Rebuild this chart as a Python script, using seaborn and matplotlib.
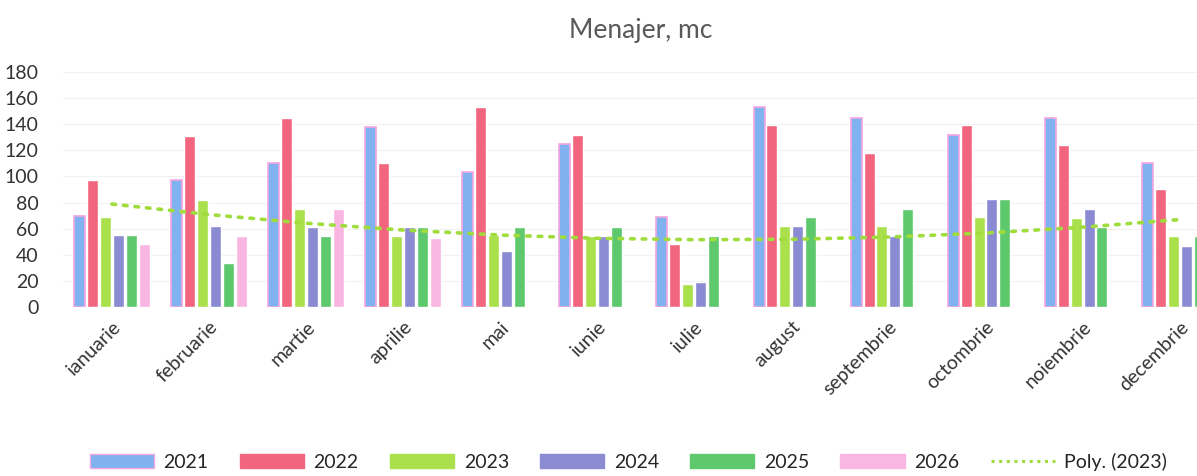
import numpy as np
import pandas as pd
import seaborn as sns
import matplotlib.pyplot as plt
from matplotlib.lines import Line2D
from matplotlib.patches import Patch

months = ["ianuarie", "februarie", "martie", "aprilie", "mai", "iunie",
          "iulie", "august", "septembrie", "octombrie", "noiembrie", "decembrie"]
years = ["2021", "2022", "2023", "2024", "2025", "2026"]

v2021 = [70, 97, 110, 138, 103, 125, 69, 153, 145, 132, 145, 110]
v2022 = [97, 131, 145, 110, 153, 132, 48, 139, 118, 139, 124, 90]
v2023 = [69, 82, 75, 54, 55, 54, 18, 62, 62, 69, 68, 54]
v2024 = [55, 62, 61, 61, 43, 54, 19, 62, 54, 83, 75, 47]
v2025 = [55, 34, 54, 61, 61, 61, 54, 69, 75, 83, 61, 54]
v2026 = [48, 54, 75, 53, np.nan, np.nan, np.nan, np.nan, np.nan, np.nan, np.nan, np.nan]

colors = ["#7fb2ee", "#f2657f", "#a9e04c", "#8b8bd4", "#5dc86c", "#f9b6e2"]
trend_color = "#9fdc3c"

sns.set_style("white")
plt.rcParams['font.family'] = ['Lato', 'DejaVu Sans']

rows = []
for y, vals in zip(years, [v2021, v2022, v2023, v2024, v2025, v2026]):
    for m, v in zip(months, vals):
        rows.append({"month": m, "year": y, "value": v})
df = pd.DataFrame(rows)

fig = plt.figure(figsize=(11.97, 4.76), dpi=100)
ax = fig.add_axes([0.053, 0.355, 0.973, 0.494])

sns.barplot(data=df, x="month", y="value", hue="year", order=months,
            hue_order=years, palette=colors, width=0.8, ax=ax,
            saturation=1, legend=False, gap=0.15)

# pink outline on 2021 bars, like the original
for bar in ax.containers[0]:
    bar.set_edgecolor("#f4a6e0")
    bar.set_linewidth(1.2)

# polynomial trend (order 2) of 2023
xs = np.arange(len(months))
coef = np.polyfit(xs, v2023, 2)
ax.plot(xs, np.polyval(coef, xs), linestyle=(0, (1, 2.2)), linewidth=2.6,
        color=trend_color, dash_capstyle="round")

ax.set_xlim(-0.5, len(months) - 0.5)
ax.set_ylim(0, 180)
ax.set_yticks(range(0, 181, 20))
ax.yaxis.grid(True, color="#f2f2f2", linewidth=0.8)
ax.set_axisbelow(True)
for s in ax.spines.values():
    s.set_visible(False)
ax.tick_params(axis="both", length=0, labelsize=14, colors="#333333")
ax.tick_params(axis="y", pad=18)
ax.tick_params(axis="x", pad=8)
ax.set_xlabel("")
ax.set_ylabel("")
plt.setp(ax.get_xticklabels(), rotation=45, ha="right", rotation_mode="anchor",
         fontsize=14)

fig.text(0.535, 0.935, "Menajer, mc", ha="center", va="center", fontsize=19,
         color="#595959")

handles = [Patch(facecolor=c, edgecolor=("#f4a6e0" if i == 0 else c))
           for i, c in enumerate(colors)]
handles.append(Line2D([0], [0], color=trend_color, linestyle=(0, (1, 1.5)),
                      linewidth=2.2))
labels = years + ["Poly. (2023)"]
fig.legend(handles, labels, loc="center", bbox_to_anchor=(0.525, 0.03),
           ncol=7, frameon=False, fontsize=14, handlelength=3.3,
           handleheight=0.7, columnspacing=1.6, handletextpad=0.5)

fig.savefig("out.png", dpi=100)
